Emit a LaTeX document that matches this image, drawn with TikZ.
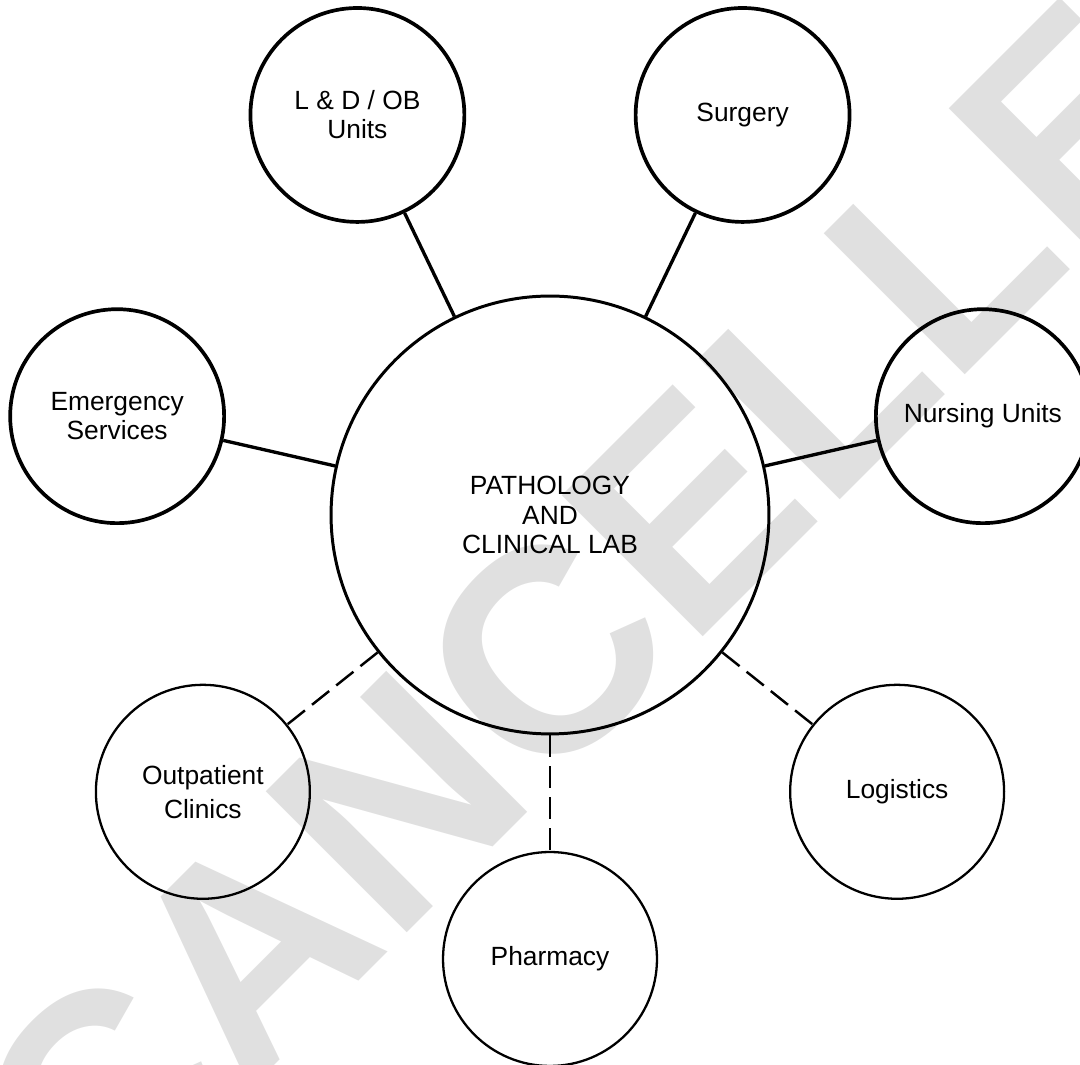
\documentclass[tikz,border=0pt]{standalone}
\usepackage{fontspec}
\setmainfont{Liberation Sans}
\usetikzlibrary{calc}
\definecolor{stampGray}{RGB}{224,224,224}
\tikzstyle{hub} = [circle, text centered, align = center, minimum size = 8.76cm, inner sep = 0pt, draw = black, line width = 1.7pt, font = \fontsize{15}{17}\selectfont]
\tikzstyle{unit} = [circle, text centered, align = center, minimum size = 4.28cm, inner sep = 0pt, draw = black, line width = 2.1pt]
\tikzstyle{minorUnit} = [unit, line width = 1.3pt]
\tikzstyle{link} = [line width = 1.9pt]
\tikzstyle{minorLink} = [line width = 1.4pt, dash pattern = on 0.44cm off 0.18cm]

\begin{document}
\begin{tikzpicture}[x = 0.02cm, y = 0.02cm, font = \fontsize{15}{16.5}\selectfont]
\useasboundingbox (0,0) rectangle (1080,1065);
% stamp behind the chart
\node (stamp) [anchor = base, rotate = 45, inner sep = 0pt, text = stampGray, font = \fontsize{165}{165}\selectfont\bfseries] at (729.5,454.5) {CANCELLED};

\node (labHub) [hub] at (550,550) {PATHOLOGY\\AND\\CLINICAL LAB};
\node (ldUnits) [unit] at ($(labHub)+(115.71:444)$) {L \& D / OB\\Units};
\node (surgery) [unit] at ($(labHub)+(64.29:444)$) {Surgery};
\node (emergency) [unit] at ($(labHub)+(167.14:444)$) {Emergency\\Services};
\node (nursing) [unit] at ($(labHub)+(12.86:444)$) {Nursing Units};
\node (outpatient) [minorUnit] at ($(labHub)+(218.57:444)$) {Outpatient\\[3pt]Clinics};
\node (pharmacy) [minorUnit] at ($(labHub)+(270:444)$) {Pharmacy};
\node (logistics) [minorUnit] at ($(labHub)+(321.43:444)$) {Logistics};

\draw [link] (labHub) -- (ldUnits);
\draw [link] (labHub) -- (surgery);
\draw [link] (labHub) -- (emergency);
\draw [link] (labHub) -- (nursing);
\draw [minorLink] (labHub) -- (outpatient);
\draw [minorLink] (labHub) -- (pharmacy);
\draw [minorLink] (labHub) -- (logistics);
\end{tikzpicture}
\end{document}
